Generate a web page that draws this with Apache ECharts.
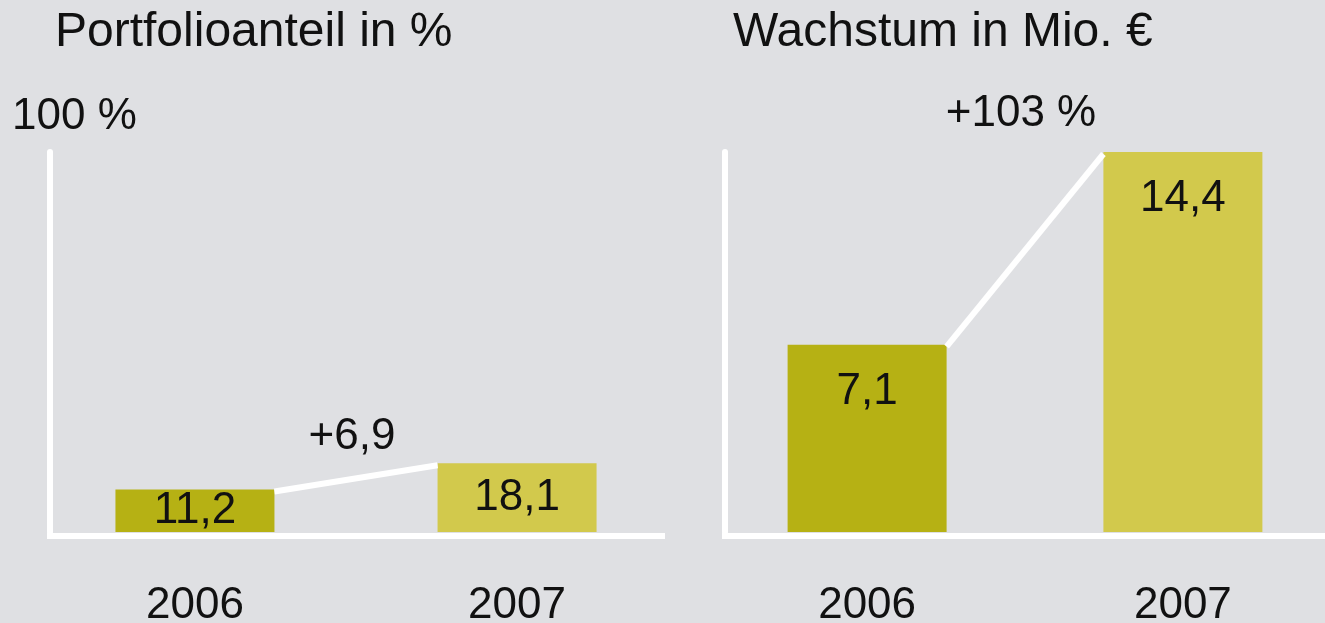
<!DOCTYPE html>
<html>
<head>
<meta charset="utf-8">
<script src="https://cdn.jsdelivr.net/npm/echarts@6/dist/echarts.min.js"></script>
<style>
  html, body { margin: 0; padding: 0; background: #dfe0e3; }
  #chart { width: 1325px; height: 623px; }
</style>
</head>
<body>
<div id="chart"></div>
<script>
// data
const years = ['2006', '2007'];
const shareValues = [11.2, 18.1];      // Portfolioanteil in %
const shareDelta = '+6,9';
const growthValues = [7.1, 14.4];      // Wachstum in Mio. €
const growthDelta = '+103 %';

const barColors = ['#b6b114', '#d2c94c'];
const FONT = 'Liberation Sans';
const BAR_W = 159;

const chart = echarts.init(document.getElementById('chart'));

function fmt (v) {
    return String(v).replace('.', ',');
}

function xAxisFor (gridIndex) {
    return {
        type: 'value',
        gridIndex: gridIndex,
        min: -0.45,
        max: 1.45,
        offset: 4,
        splitLine: { show: false },
        axisTick: { show: false },
        axisLine: { show: true, onZero: false, lineStyle: { color: '#fff', width: 6, cap: 'square' } },
        axisLabel: {
            customValues: [0, 1],
            formatter: function (v) { return years[Math.round(v)]; },
            margin: 48,
            fontSize: 44,
            fontFamily: FONT,
            color: '#111'
        }
    };
}

function yAxisFor (gridIndex, max) {
    return {
        type: 'value',
        gridIndex: gridIndex,
        min: 0,
        max: max,
        splitLine: { show: false },
        axisTick: { show: false },
        axisLabel: { show: false },
        axisLine: { show: true, onZero: false, lineStyle: { color: '#fff', width: 6 } }
    };
}

function barSeries (idx, values, labelPos, labelDist) {
    return {
        type: 'bar',
        xAxisIndex: idx,
        yAxisIndex: idx,
        barWidth: BAR_W,
        data: values.map(function (v, i) { return [i, v]; }),
        itemStyle: {
            color: function (p) { return barColors[p.dataIndex]; }
        },
        label: {
            show: true,
            position: labelPos,
            distance: labelDist,
            fontSize: 44,
            fontFamily: FONT,
            color: '#111',
            formatter: function (p) { return fmt(p.value[1]); }
        }
    };
}

// white connector from the top of one bar to the next, with the change above it
function connectorSeries (idx, values, text, gap) {
    return {
        type: 'custom',
        xAxisIndex: idx,
        yAxisIndex: idx,
        z: 3,
        data: [[0, values[0], 1, values[1]]],
        encode: { x: [0, 2], y: [1, 3] },
        renderItem: function (params, api) {
            const a = api.coord([api.value(0), api.value(1)]);
            const b = api.coord([api.value(2), api.value(3)]);
            const half = BAR_W / 2;
            return {
                type: 'group',
                children: [
                    {
                        type: 'line',
                        shape: { x1: a[0] + half, y1: a[1] + 2, x2: b[0] - half, y2: b[1] + 2 },
                        style: { stroke: '#fff', lineWidth: 6 }
                    },
                    {
                        type: 'text',
                        style: {
                            text: text,
                            x: (a[0] + b[0]) / 2 - 4,
                            y: Math.min(a[1], b[1]) - gap,
                            fontSize: 44,
                            fontFamily: FONT,
                            fill: '#111',
                            align: 'center',
                            verticalAlign: 'middle'
                        }
                    }
                ]
            };
        }
    };
}

const option = {
    backgroundColor: '#dfe0e3',
    animation: false,
    title: [
        { text: 'Portfolioanteil in %', left: 50, top: 4,
          textStyle: { fontSize: 48, fontWeight: 'normal', fontFamily: FONT, color: '#111' } },
        { text: '100 %', left: 7, top: 90,
          textStyle: { fontSize: 44, fontWeight: 'normal', fontFamily: FONT, color: '#111' } },
        { text: 'Wachstum in Mio. €', left: 728, top: 4,
          textStyle: { fontSize: 48, fontWeight: 'normal', fontFamily: FONT, color: '#111' } }
    ],
    grid: [
        { left: 50, right: 663, top: 152, bottom: 91, outerBoundsMode: 'none' },
        { left: 725, right: 0, top: 152, bottom: 91, outerBoundsMode: 'none' }
    ],
    xAxis: [xAxisFor(0), xAxisFor(1)],
    yAxis: [yAxisFor(0, 100), yAxisFor(1, 14.4)],
    series: [
        barSeries(0, shareValues, 'inside', 0),
        barSeries(1, growthValues, 'insideTop', 25),
        connectorSeries(0, shareValues, shareDelta, 26),
        connectorSeries(1, growthValues, growthDelta, 38)
    ]
};

chart.setOption(option);

window.addEventListener('resize', function () {
    chart.resize();
});
</script>
</body>
</html>
